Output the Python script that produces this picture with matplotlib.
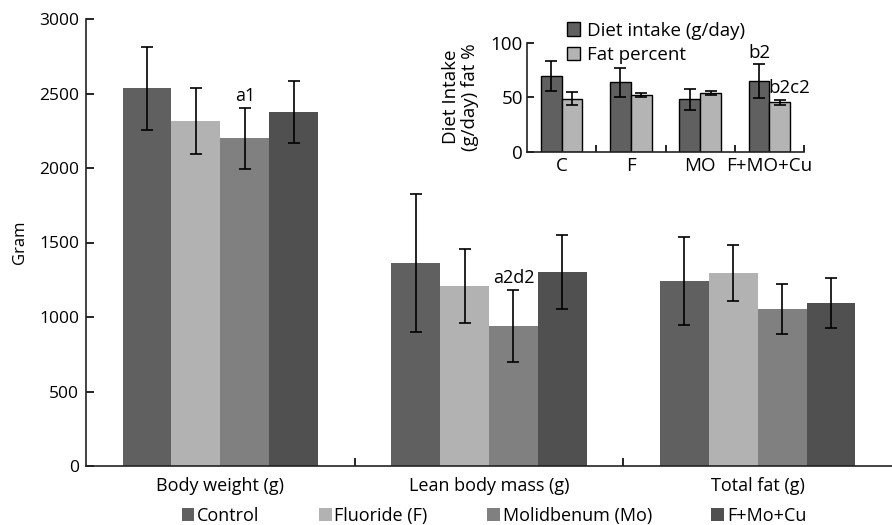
import matplotlib
matplotlib.use('Agg')
import matplotlib.pyplot as plt
import numpy as np
from matplotlib.patches import Patch

plt.rcParams['font.family'] = ['Open Sans', 'DejaVu Sans']

# main panel
measures = ['Body weight (g)', 'Lean body mass (g)', 'Total fat (g)']
groups = ['Control', 'Fluoride (F)', 'Molidbenum (Mo)', 'F+Mo+Cu']
control = [2535, 1362, 1242]
control_err = [277, 466, 295]
fluoride = [2315, 1208, 1295]
fluoride_err = [222, 250, 185]
molyb = [2200, 940, 1054]
molyb_err = [205, 243, 168]
fmc = [2376, 1302, 1094]
fmc_err = [207, 245, 170]
main_labels = [(2, 0, 'a1'), (2, 1, 'a2d2')]

# inset
inset_groups = ['C', 'F', 'MO', 'F+MO+Cu']
diet_intake = [69.5, 63.7, 48.0, 64.9]
diet_err = [13.7, 13.3, 9.6, 15.6]
fat_percent = [48.5, 52.3, 53.6, 45.3]
fat_err = [6.0, 2.0, 1.8, 2.0]

colors = ['#606060', '#b2b2b2', '#808080', '#505050']

fig = plt.figure(figsize=(8.92, 5.25), dpi=100)
ax = fig.add_axes([86 / 892, 1 - 466 / 525, 806 / 892, 447 / 525])

series = [(control, control_err), (fluoride, fluoride_err),
          (molyb, molyb_err), (fmc, fmc_err)]
x = np.arange(len(measures))
w = 0.182
for i, (vals, errs) in enumerate(series):
    pos = x + (i - 1.5) * w
    ax.bar(pos, vals, w, color=colors[i], linewidth=0)
    ax.errorbar(pos, vals, yerr=errs, fmt='none', ecolor='black',
                elinewidth=1.2, capsize=4, capthick=1.2)

for gi, mi, txt in main_labels:
    vals, errs = series[gi]
    ax.text(x[mi] + (gi - 1.5) * w, vals[mi] + errs[mi] + 20, txt,
            ha='center', va='bottom', fontsize=13)

ax.set_xlim(-0.5, 2.5)
ax.set_ylim(0, 3000)
ax.set_yticks(range(0, 3001, 500))
ax.set_xticks(x)
ax.set_xticklabels(measures, fontsize=13)
ax.set_xticks([0.5, 1.5], minor=True)
ax.tick_params(axis='x', which='major', length=0, pad=8)
ax.tick_params(axis='x', which='minor', direction='in', length=6, width=1.2)
ax.tick_params(axis='y', direction='in', length=6, width=1.2, labelsize=12.5, pad=5)
ax.set_ylabel('Gram', fontsize=12, labelpad=8)
for s in ['top', 'right']:
    ax.spines[s].set_visible(False)
for s in ['left', 'bottom']:
    ax.spines[s].set_linewidth(1.2)
    ax.spines[s].set_color('#222222')

handles = [Patch(facecolor=c, edgecolor='none') for c in colors]
fig.legend(handles, groups, loc='center', bbox_to_anchor=(494 / 892, 1 - 516 / 525),
           ncol=4, frameon=False, fontsize=13, handlelength=0.7, handleheight=0.7,
           handletextpad=0.15, columnspacing=3.3, borderpad=0)

# inset axes
ins = fig.add_axes([527 / 892, 1 - 151.7 / 525, 277 / 892, 109 / 525])
xi = np.arange(len(inset_groups))
wi = 0.3
ins.bar(xi - wi / 2, diet_intake, wi, color='#606060', edgecolor='black', linewidth=1,
        label='Diet intake (g/day)')
ins.bar(xi + wi / 2, fat_percent, wi, color='#b4b4b4', edgecolor='black', linewidth=1,
        label='Fat percent')
ins.errorbar(xi - wi / 2, diet_intake, yerr=diet_err, fmt='none', ecolor='black',
             elinewidth=1.2, capsize=4, capthick=1.2)
ins.errorbar(xi + wi / 2, fat_percent, yerr=fat_err, fmt='none', ecolor='black',
             elinewidth=1.2, capsize=4, capthick=1.2)
ins.text(xi[3] - wi / 2, 90.5, 'b2', ha='center', va='center', fontsize=13.5)
ins.text(xi[3] - 0.02, 58.5, 'b2c2', ha='left', va='center', fontsize=13.5)
ins.set_xlim(-0.5, 3.5)
ins.set_ylim(0, 100)
ins.set_yticks([0, 50, 100])
ins.set_xticks(xi)
ins.set_xticklabels(inset_groups, fontsize=13.5)
ins.set_xticks([0.5, 1.5, 2.5, 3.5], minor=True)
ins.tick_params(axis='x', which='major', length=0, pad=4)
ins.tick_params(axis='x', which='minor', direction='in', length=5, width=1.2)
ins.tick_params(axis='y', direction='in', length=5, width=1.2, labelsize=13.5, pad=3)
ins.set_ylabel('Diet Intake\n(g/day) fat %', fontsize=13.5, labelpad=8, linespacing=1.1)
for s in ['top', 'right']:
    ins.spines[s].set_visible(False)
for s in ['left', 'bottom']:
    ins.spines[s].set_linewidth(1.2)
    ins.spines[s].set_color('#222222')
ins.patch.set_alpha(0)
ins.legend(loc='upper left', bbox_to_anchor=(0.11, 1.28), frameon=False, fontsize=13.5,
           handlelength=0.7, handleheight=0.7, handletextpad=0.4, labelspacing=0.35,
           borderpad=0)

fig.savefig('out.png', dpi=100)
